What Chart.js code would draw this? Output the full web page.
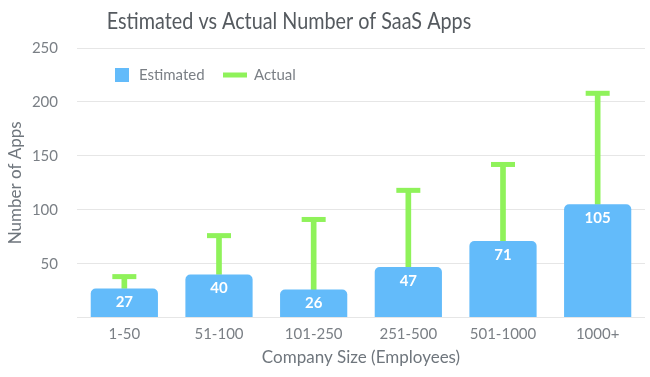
<!DOCTYPE html>
<html lang="en">
<head>
    <meta charset="UTF-8">
    <title>Estimated vs Actual Number of SaaS Apps</title>
    <script src="https://cdn.jsdelivr.net/npm/chart.js"></script>
    <style>
        html, body { margin: 0; padding: 0; background: #fff; }
        #wrap { width: 650px; height: 377px; }
    </style>
</head>
<body>
    <div id="wrap"><canvas id="myChart"></canvas></div>
    <script>
        // Data
        const categories = ['1-50', '51-100', '101-250', '251-500', '501-1000', '1000+'];
        const estimated = [27, 40, 26, 47, 71, 105];
        const actual = [38, 76, 91, 118, 142, 208];
        const yTicks = [0, 50, 100, 150, 200, 250];

        const blue = '#63bbfa';
        const green = '#8ff25a';
        const greyText = '#7a7f85';

        // Title drawn slightly left of centre and a bit narrow, like the original
        const titlePlugin = {
            id: 'titlePlugin',
            afterDraw: (chart) => {
                const ctx = chart.ctx;
                ctx.save();
                ctx.translate(289, 22);
                ctx.scale(0.86, 1);
                ctx.font = '23px Lato';
                ctx.fillStyle = '#555a5f';
                ctx.textAlign = 'center';
                ctx.textBaseline = 'middle';
                ctx.fillText('Estimated vs Actual Number of SaaS Apps', 0, 0);
                ctx.restore();
            }
        };

        // Legend inside the plot, top left
        const legendPlugin = {
            id: 'legendPlugin',
            afterDraw: (chart) => {
                const ctx = chart.ctx;
                const area = chart.chartArea;
                const ds = chart.data.datasets;
                const y = area.top + 27;
                const x0 = area.left + 38;
                ctx.save();
                ctx.font = '15px Lato';
                ctx.textBaseline = 'middle';
                ctx.textAlign = 'left';
                // Estimated: square swatch
                ctx.fillStyle = ds[0].backgroundColor;
                ctx.fillRect(x0, y - 7, 14, 14);
                ctx.fillStyle = greyText;
                ctx.fillText(ds[0].label, x0 + 24, y);
                // Actual: line swatch
                const x1 = x0 + 108;
                ctx.fillStyle = ds[1].backgroundColor;
                ctx.fillRect(x1, y - 2.5, 24, 5);
                ctx.fillStyle = greyText;
                ctx.fillText(ds[1].label, x1 + 31, y);
                ctx.restore();
            }
        };

        // T-caps on the Actual stems and value labels inside the bars
        const capsAndLabels = {
            id: 'capsAndLabels',
            afterDatasetsDraw: (chart) => {
                const ctx = chart.ctx;
                const yScale = chart.scales.y;
                const actMeta = chart.getDatasetMeta(1);
                ctx.save();
                ctx.fillStyle = green;
                actMeta.data.forEach((el, i) => {
                    const y = yScale.getPixelForValue(actual[i]);
                    ctx.fillRect(el.x - 12, y - 2.5, 24, 5);
                });
                const estMeta = chart.getDatasetMeta(0);
                ctx.fillStyle = '#ffffff';
                ctx.font = 'bold 15px Lato';
                ctx.textAlign = 'center';
                ctx.textBaseline = 'middle';
                estMeta.data.forEach((el, i) => {
                    ctx.fillText(String(estimated[i]), el.x, el.y + 14);
                });
                ctx.restore();
            }
        };

        const ctx = document.getElementById('myChart').getContext('2d');
        const chart = new Chart(ctx, {
            type: 'bar',
            data: {
                labels: categories,
                datasets: [{
                    label: 'Estimated',
                    data: estimated,
                    backgroundColor: blue,
                    borderRadius: { topLeft: 5, topRight: 5 },
                    borderSkipped: 'bottom',
                    barPercentage: 0.71,
                    categoryPercentage: 1
                }, {
                    label: 'Actual',
                    data: estimated.map((e, i) => [e, actual[i]]),
                    backgroundColor: green,
                    barThickness: 5
                }]
            },
            options: {
                responsive: true,
                maintainAspectRatio: false,
                animation: false,
                grouped: false,
                layout: { padding: { top: 48, right: 5, left: 0, bottom: 9 } },
                plugins: {
                    title: { display: false },
                    tooltip: { enabled: false },
                    legend: { display: false }
                },
                scales: {
                    x: {
                        grid: { display: false },
                        border: { display: false },
                        ticks: { color: greyText, font: { family: 'Lato', size: 15 }, padding: 0 },
                        title: {
                            display: true,
                            text: 'Company Size (Employees)',
                            color: '#6f767d',
                            font: { family: 'Lato', size: 17 },
                            padding: { top: 4, bottom: 0 }
                        }
                    },
                    y: {
                        min: 0,
                        max: 250,
                        afterBuildTicks: (axis) => {
                            axis.ticks = yTicks.map(v => ({ value: v }));
                        },
                        afterFit: (axis) => { axis.width = 77; },
                        grid: { color: '#e6e6e6', drawTicks: false },
                        border: { display: false },
                        ticks: {
                            color: greyText,
                            font: { family: 'Lato', size: 15 },
                            padding: 19,
                            callback: (v) => v === 0 ? '' : v
                        },
                        title: {
                            display: true,
                            text: 'Number of Apps',
                            color: '#6f767d',
                            font: { family: 'Lato', size: 17 },
                            padding: { top: 5, bottom: 0 }
                        }
                    }
                }
            },
            plugins: [titlePlugin, legendPlugin, capsAndLabels]
        });
    </script>
</body>
</html>
